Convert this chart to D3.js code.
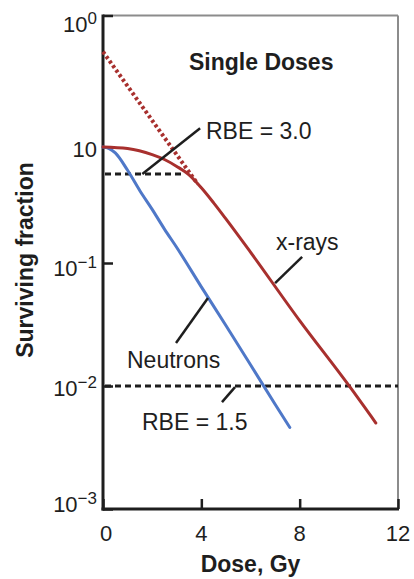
<!DOCTYPE html>
<html>
<head>
<meta charset="utf-8">
<script src="https://cdn.jsdelivr.net/npm/d3@7/dist/d3.min.js"></script>
<style>
  html, body { margin: 0; padding: 0; background: #fff; }
  svg { display: block; font-family: "Liberation Sans", Arial, Helvetica, sans-serif; }
</style>
</head>
<body>
<svg id="chart" width="414" height="579"></svg>
<script>
// Survival curves for single doses (dose in Gy, surviving fraction)
const xrayDose    = [0, 1, 2, 2.5, 3, 3.5, 4, 4.5, 5, 6, 8, 10, 11.1];
const xraySF      = [1.0, 0.97, 0.86, 0.78, 0.68, 0.575, 0.445, 0.33, 0.24, 0.124, 0.034, 0.0101, 0.0050];
const neutronDose = [0, 0.25, 0.5, 1, 1.5, 2, 2.5, 3, 4, 5, 6, 7, 7.6];
const neutronSF   = [1.0, 0.97, 0.89, 0.63, 0.42, 0.29, 0.196, 0.136, 0.064, 0.031, 0.0149, 0.0071, 0.0046];

// Extrapolation of the x-ray exponential part back to zero dose
const extrapDose = [0, 3.85];
const extrapSF   = [5.3, 0.48];

const refSF      = [0.585, 0.01];
const refEndDose = [3.3, 12];

// Axis ticks
const xTicks    = [0, 4, 8, 12];
const yTicks    = [10, 1, 0.1, 0.01, 0.001];
const yTickBase = ["10", "10", "10", "10", "10"];
const yTickExp  = ["0", "", "\u22121", "\u22122", "\u22123"];

const svg = d3.select("#chart");

const x = d3.scaleLinear().domain([0, 12]).range([103, 398]);
// log scale laid out decade by decade
const y = d3.scaleLog()
  .domain([0.001, 0.01, 0.1, 1, 10])
  .range([509, 386, 263, 147, 15.5]);

const red = "#a8302e";
const blue = "#4f78c8";
const ink = "#1e1e1e";

// frame: light top/right, heavy left/bottom axes
svg.append("line").attr("x1", x(0)).attr("x2", x(12)).attr("y1", y(10)).attr("y2", y(10))
  .attr("stroke", "#8c8c8c").attr("stroke-width", 2);
svg.append("line").attr("x1", x(12)).attr("x2", x(12)).attr("y1", y(10)).attr("y2", y(0.001))
  .attr("stroke", "#8c8c8c").attr("stroke-width", 2);

const xAxis = d3.axisBottom(x).tickValues(xTicks).tickSize(-10).tickFormat("");
const yAxis = d3.axisLeft(y).tickValues(yTicks).tickSize(-10).tickFormat("");

const gx = svg.append("g").attr("transform", `translate(0,${y(0.001)})`).call(xAxis);
const gy = svg.append("g").attr("transform", `translate(${x(0)},0)`).call(yAxis);
[gx, gy].forEach(g => {
  g.select(".domain").attr("stroke", ink).attr("stroke-width", 3);
  g.selectAll(".tick line").attr("stroke", ink).attr("stroke-width", 2.5);
});
gy.select(".domain").attr("d", `M0,${y(10) - 1}V${y(0.001) + 1.5}`);
gx.select(".domain").attr("d", `M${x(0) - 1.5},0H${x(12) + 1}`);

// x tick labels
svg.append("g").selectAll("text").data(xTicks).join("text")
  .attr("x", d => x(d) + (d === 0 ? 3 : 0))
  .attr("y", y(0.001) + 32)
  .attr("text-anchor", "middle")
  .attr("font-size", 22)
  .attr("fill", ink)
  .text(d => d);

// y tick labels with superscript exponents
const yShift = [16, 10, 13, 10, 3];
const yl = svg.append("g").selectAll("text").data(yTicks).join("text")
  .attr("x", 97)
  .attr("y", (d, i) => y(d) + yShift[i])
  .attr("text-anchor", "end")
  .attr("font-size", 22)
  .attr("fill", ink);
yl.append("tspan").text((d, i) => yTickBase[i]);
yl.append("tspan")
  .attr("font-size", 17)
  .attr("dy", -8)
  .text((d, i) => yTickExp[i]);

// axis titles
svg.append("text")
  .attr("x", (x(0) + x(12)) / 2)
  .attr("y", 572)
  .attr("text-anchor", "middle")
  .attr("font-size", 23)
  .attr("font-weight", "bold")
  .attr("fill", ink)
  .text("Dose, Gy");

svg.append("text")
  .attr("transform", "translate(33,260) rotate(-90)")
  .attr("text-anchor", "middle")
  .attr("font-size", 23)
  .attr("font-weight", "bold")
  .attr("fill", ink)
  .text("Surviving fraction");

// RBE reference levels
svg.append("g").selectAll("line").data(refSF).join("line")
  .attr("x1", x(0) + 2)
  .attr("x2", (d, i) => x(refEndDose[i]))
  .attr("y1", d => y(d))
  .attr("y2", d => y(d))
  .attr("stroke", ink)
  .attr("stroke-width", 3)
  .attr("stroke-dasharray", "6 4");

// survival curves
const line = d3.line()
  .x(d => x(d[0]))
  .y(d => y(d[1]))
  .curve(d3.curveMonotoneX);

svg.append("path")
  .datum(extrapDose.map((d, i) => [d, extrapSF[i]]))
  .attr("d", d3.line().x(d => x(d[0])).y(d => y(d[1])))
  .attr("fill", "none")
  .attr("stroke", red)
  .attr("stroke-width", 4)
  .attr("stroke-dasharray", "3 2.6");

svg.append("path")
  .datum(neutronDose.map((d, i) => [d, neutronSF[i]]))
  .attr("d", line)
  .attr("fill", "none")
  .attr("stroke", blue)
  .attr("stroke-width", 3)
  .attr("stroke-linecap", "round");

svg.append("path")
  .datum(xrayDose.map((d, i) => [d, xraySF[i]]))
  .attr("d", line)
  .attr("fill", "none")
  .attr("stroke", red)
  .attr("stroke-width", 3)
  .attr("stroke-linecap", "round");

// leader lines for the labels (data coordinates)
const leaders = [
  [[1.6, 0.585], [3.95, 1.39]],
  [[7.0, 0.0687], [8.1, 0.113]],
  [[4.27, 0.052], [2.97, 0.0224]],
  [[5.37, 0.0098], [4.84, 0.0074]]
];
svg.append("g").selectAll("line").data(leaders).join("line")
  .attr("x1", d => x(d[0][0])).attr("y1", d => y(d[0][1]))
  .attr("x2", d => x(d[1][0])).attr("y2", d => y(d[1][1]))
  .attr("stroke", ink)
  .attr("stroke-width", 2.5);

// annotations
const notes = [
  { t: "Single Doses", x: 189, y: 70, bold: true },
  { t: "RBE = 3.0", x: 206, y: 139 },
  { t: "x-rays", x: 276, y: 250 },
  { t: "Neutrons", x: 127, y: 368 },
  { t: "RBE = 1.5", x: 142, y: 430 }
];
svg.append("g").selectAll("text").data(notes).join("text")
  .attr("x", d => d.x)
  .attr("y", d => d.y)
  .attr("font-size", 23)
  .attr("font-weight", d => d.bold ? "bold" : "normal")
  .attr("fill", ink)
  .text(d => d.t);
</script>
</body>
</html>
